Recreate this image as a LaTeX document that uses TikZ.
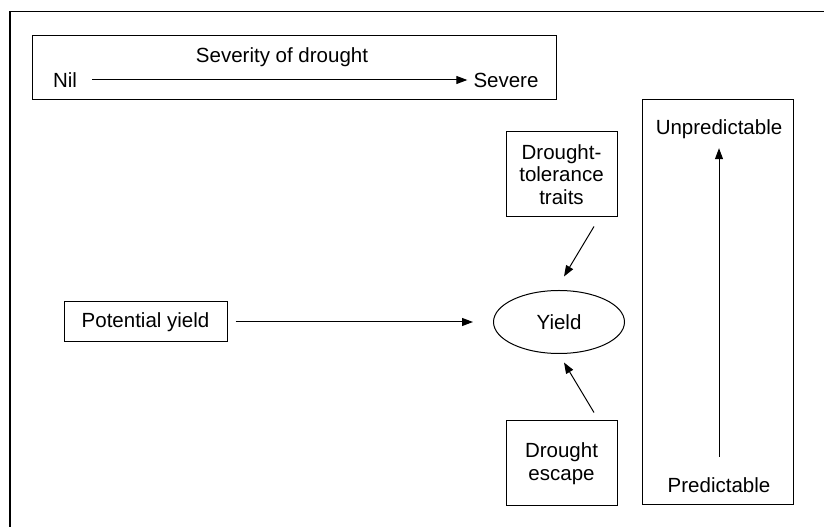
\documentclass[tikz,border=0pt]{standalone}
\usepackage{fontspec}
\setmainfont{Liberation Sans}
\usetikzlibrary{arrows.meta,shapes.geometric}

\begin{document}
\begin{tikzpicture}[x=10pt,y=10pt,
  font=\fontsize{20.5}{22.5}\selectfont,
  frame/.style={draw,line width=1pt},
  box/.style={frame,align=center,inner sep=0pt},
  lab/.style={inner sep=0pt,text height=14.5pt,text depth=0pt},
  arr/.style={-{Triangle[length=11pt,width=8pt]},line width=1pt},
]
\useasboundingbox (0,0) rectangle (82.4,52.7);
% ---------- outer frame (top and left only) ----------
\draw[line width=1.5pt] (1.0,0) -- (1.0,51.55) -- (82.4,51.55);

% ---------- severity scale ----------
\node[box,minimum width=524pt,minimum height=64pt] (sevbox) at (29.4,45.9) {};
\node[lab] (sevtitle) at (28.2,47.2) {Severity of drought};
\node[lab] (nil) at (6.5,44.7) {Nil};
\node[lab] (severe) at (50.6,44.7) {Severe};
\draw[arr,shorten <=15pt,shorten >=6pt] (nil) -- (severe);

% ---------- yield and its drivers ----------
\node[box,minimum width=163pt,minimum height=40pt] (potential) at (14.55,20.5) {Potential yield};
\node[frame,ellipse,minimum width=131pt,minimum height=63pt,inner sep=0pt] (yield) at (55.9,20.5) {Yield};
\node[box,minimum width=111pt,minimum height=85pt] (tolerance) at (56.15,35.25) {Drought-\\tolerance\\traits};
\node[box,minimum width=111pt,minimum height=85pt] (escape) at (56.15,6.35) {Drought\\escape};
\draw[arr,shorten <=8pt,shorten >=20pt] (potential) -- (yield);
\draw[arr] ([xshift=32.5pt,yshift=-9pt]tolerance.south) -- ([xshift=5pt,yshift=13.5pt]yield.north);
\draw[arr] ([xshift=32.5pt,yshift=8pt]escape.north) -- ([xshift=5pt,yshift=-8.5pt]yield.south);

% ---------- predictability ----------
\node[box,minimum width=151pt,minimum height=405pt] (predbox) at (71.75,22.45) {};
\node[lab] (unpred) at (71.9,40.0) {Unpredictable};
\node[lab] (pred) at (71.9,4.2) {Predictable};
\draw[arr,shorten <=20.75pt,shorten >=13.75pt] (pred) -- (unpred);
\end{tikzpicture}
\end{document}
